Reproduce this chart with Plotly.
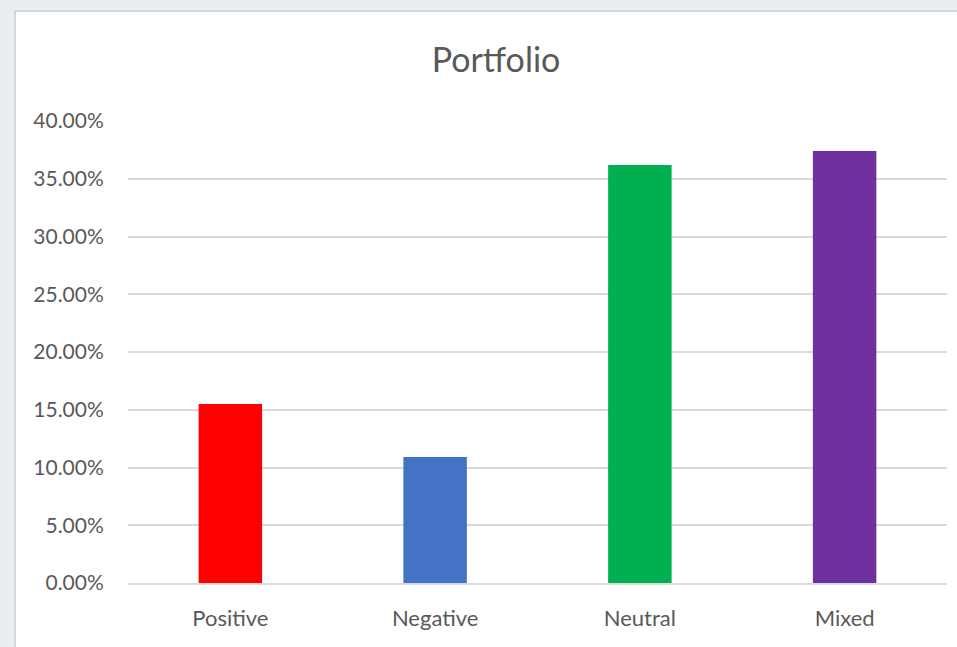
import plotly.graph_objects as go

categories = ["Positive", "Negative", "Neutral", "Mixed"]
values = [0.155, 0.109, 0.362, 0.374]
colors = ["#FF0000", "#4472C4", "#00B050", "#7030A0"]
title = "Portfolio"

W, H = 957, 647
L, R, T, B = 128, 10, 121, 64
pw, ph = W - L - R, H - T - B

def px_x(px):
    return (px - L) / pw

def px_y(py):
    return (H - B - py) / ph

fig = go.Figure(go.Bar(x=categories, y=values, marker=dict(color=colors, line=dict(width=0)), width=0.31))

font = "Lato, Carlito, Calibri, sans-serif"
fig.update_layout(
    width=W, height=H,
    margin=dict(l=L, r=R, t=T, b=B),
    paper_bgcolor="white",
    plot_bgcolor="rgba(0,0,0,0)",
    showlegend=False,
    title=dict(text=title, x=496 / W, xref="container", xanchor="center",
               y=1 - 60 / H, yref="container", yanchor="middle",
               font=dict(family=font, size=34, color="#595959")),
    font=dict(family=font, color="#595959"),
    shapes=[
        dict(type="rect", xref="paper", yref="paper", layer="below",
             x0=px_x(-5), x1=px_x(15), y0=px_y(700), y1=px_y(-5),
             fillcolor="#EBEEF0", line=dict(width=0)),
        dict(type="rect", xref="paper", yref="paper", layer="below",
             x0=px_x(-5), x1=px_x(1000), y0=px_y(11), y1=px_y(-5),
             fillcolor="#EBEEF0", line=dict(width=0)),
        dict(type="line", xref="paper", yref="paper", layer="below",
             x0=px_x(15), x1=px_x(15), y0=px_y(700), y1=px_y(10),
             line=dict(color="#D4D6D8", width=2)),
        dict(type="line", xref="paper", yref="paper", layer="below",
             x0=px_x(14), x1=px_x(1000), y0=px_y(11), y1=px_y(11),
             line=dict(color="#D4D6D8", width=2)),
    ],
)
fig.update_yaxes(range=[0, 0.4], dtick=0.05, tickformat=".2%",
                 showgrid=True, gridcolor="#D9D9D9", gridwidth=1.5,
                 zeroline=False, showline=False,
                 ticks="outside", ticklen=19, tickcolor="rgba(0,0,0,0)",
                 tickfont=dict(size=21, color="#595959", family=font))
fig.update_xaxes(showgrid=False, showline=True, linecolor="#D9D9D9", linewidth=1.5,
                 ticks="outside", ticklen=15, tickcolor="rgba(0,0,0,0)",
                 tickfont=dict(size=22, color="#595959", family=font))

fig.write_html("out.html", config={"displayModeBar": False},
               post_script="document.body.style.margin='0';document.body.style.overflow='hidden';")
